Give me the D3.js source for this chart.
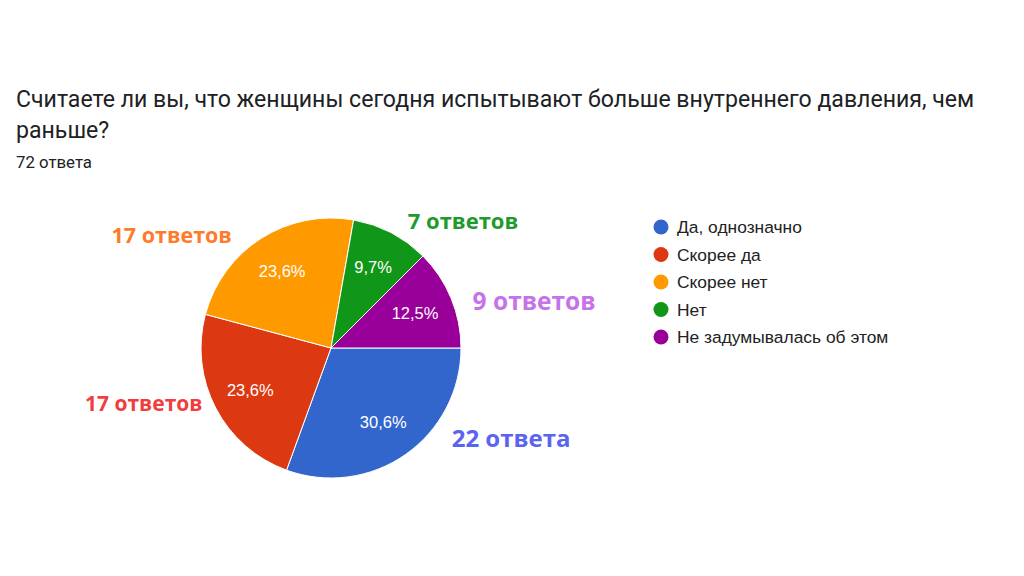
<!DOCTYPE html>
<html>
<head>
<meta charset="utf-8">
<script src="https://cdn.jsdelivr.net/npm/d3@7"></script>
<style>
  html, body { margin: 0; padding: 0; background: #fff; }
  svg { display: block; font-family: Roboto, "Noto Sans", sans-serif; }
</style>
</head>
<body>
<div id="chart"></div>
<script>
// Chart data
var categories = ['Да, однозначно', 'Скорее да', 'Скорее нет', 'Нет', 'Не задумывалась об этом'];
var counts = [22, 17, 17, 7, 9];
var countLabels = ['22 ответа', '17 ответов', '17 ответов', '7 ответов', '9 ответов'];
var titleLines = ['Считаете ли вы, что женщины сегодня испытывают больше внутреннего давления, чем', 'раньше?'];
var subtitle = '72 ответа';

var colors = ['#3366cc', '#dc3912', '#ff9900', '#109618', '#990099'];
var noteColors = ['#5a64f0', '#f23d3d', '#ff7a2a', '#1f9a2c', '#c672e8'];

var width = 1024, height = 576;
var cx = 331, cy = 348, radius = 130;

var svg = d3.select('#chart').append('svg')
    .attr('width', width)
    .attr('height', height);

// Title
svg.append('g').selectAll('text')
    .data(titleLines)
  .enter().append('text')
    .attr('x', 16)
    .attr('y', function(d, i) { return 107 + i * 31; })
    .attr('fill', '#202124')
    .style('font-size', '23.1px')
    .text(function(d) { return d; });

svg.append('text')
    .attr('x', 16)
    .attr('y', 168)
    .attr('fill', '#202124')
    .style('font-size', '16.8px')
    .text(subtitle);

var total = d3.sum(counts);
var data = categories.map(function(c, i) {
  return {name: c, value: counts[i], color: colors[i], note: countLabels[i], noteColor: noteColors[i]};
});

var pie = d3.pie()
    .value(function(d) { return d.value; })
    .sort(null)
    .startAngle(Math.PI / 2)
    .endAngle(Math.PI / 2 + 2 * Math.PI);

var arc = d3.arc().innerRadius(0).outerRadius(radius);
var labelArc = d3.arc().innerRadius(radius * 0.7).outerRadius(radius * 0.7);

var g = svg.append('g').attr('transform', 'translate(' + cx + ',' + cy + ')');
var arcs = pie(data);

g.selectAll('path')
    .data(arcs)
  .enter().append('path')
    .attr('d', arc)
    .attr('fill', function(d) { return d.data.color; })
    .attr('stroke', '#fff')
    .attr('stroke-width', 1);

var fmt = function(v) { return (v / total * 100).toFixed(1).replace('.', ',') + '%'; };

g.selectAll('text.pct')
    .data(arcs)
  .enter().append('text')
    .attr('class', 'pct')
    .attr('transform', function(d) { return 'translate(' + labelArc.centroid(d) + ')'; })
    .attr('dy', '0.35em')
    .attr('text-anchor', 'middle')
    .attr('fill', '#fff')
    .style('font-family', '"Liberation Sans", Arial, sans-serif')
    .style('font-size', '16.5px')
    .text(function(d) { return fmt(d.data.value); });

// Hand-added count annotations around the pie
var noteArc = d3.arc().innerRadius(radius * 1.45).outerRadius(radius * 1.45);
var noteSizes = [24, 21, 21.5, 22, 24.5];
var noteShift = [[72, -64], [-20, -31], [-58, 46], [45, 40], [29, 26]];
g.selectAll('text.note')
    .data(arcs)
  .enter().append('text')
    .attr('class', 'note')
    .attr('transform', function(d, i) {
      var c = noteArc.centroid(d);
      return 'translate(' + (c[0] + noteShift[i][0]) + ',' + (c[1] + noteShift[i][1]) + ')';
    })
    .attr('dy', '0.35em')
    .attr('text-anchor', 'middle')
    .attr('fill', function(d) { return d.data.noteColor; })
    .attr('stroke', 'rgba(255,255,255,0.8)')
    .attr('stroke-width', 2)
    .attr('paint-order', 'stroke')
    .style('font-family', '"Open Sans", "Noto Sans", sans-serif')
    .style('font-weight', 'bold')
    .style('font-size', function(d, i) { return noteSizes[i] + 'px'; })
    .text(function(d) { return d.data.note; });

// Legend
var legend = svg.append('g').attr('transform', 'translate(661,227)');
var rows = legend.selectAll('g')
    .data(data)
  .enter().append('g')
    .attr('transform', function(d, i) { return 'translate(0,' + (i * 27.5) + ')'; });

rows.append('circle')
    .attr('r', 7.5)
    .attr('fill', function(d) { return d.color; });

rows.append('text')
    .attr('x', 16)
    .attr('dy', '0.35em')
    .attr('fill', '#222')
    .style('font-family', '"Liberation Sans", Arial, sans-serif')
    .style('font-size', '17.4px')
    .text(function(d) { return d.name; });
</script>
</body>
</html>
